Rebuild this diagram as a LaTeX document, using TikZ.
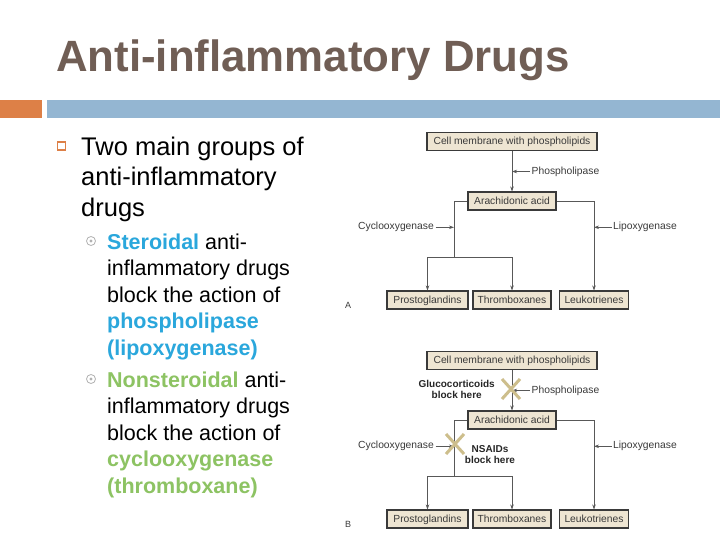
\documentclass[tikz,border=0pt]{standalone}
\usepackage{fontspec}
\setmainfont{Liberation Sans}
\usetikzlibrary{arrows.meta,positioning}
\definecolor{titlebrown}{HTML}{705E55}
\definecolor{barorange}{HTML}{DD8047}
\definecolor{barblue}{HTML}{94B6D2}
\definecolor{stero}{HTML}{2AA7DC}
\definecolor{nonstero}{HTML}{8DC363}
\definecolor{boxfill}{HTML}{EEE5D2}
\definecolor{crosstan}{HTML}{CDBE8C}
\definecolor{inkgray}{HTML}{3A3A3A}
\begin{document}
\begin{tikzpicture}[x=1pt, y=-1pt,
    stepbox/.style={draw=inkgray, line width=1.1pt, fill=boxfill, inner sep=0pt,
                    minimum height=18pt, text height=8pt, text depth=1.8pt,
                    font=\fontsize{10.3}{12}\selectfont, text=inkgray},
    flow/.style={draw=inkgray!85, line width=0.6pt},
    flowarr/.style={flow, -{Stealth[length=5pt,width=3.5pt]}},
    enzyme/.style={font=\fontsize{10.3}{12}\selectfont, text=inkgray, inner sep=1.5pt},
    blocktext/.style={font=\bfseries\fontsize{10}{11}\selectfont, align=center,
                      text=black!85, inner sep=0pt},
    crossline/.style={draw=crosstan, line width=3pt},
    bodytext/.style={anchor=base west, align=left, inner sep=0pt}]

\useasboundingbox[fill=white] (0,0) rectangle (720,540);

% title and bars
\node[anchor=base west, inner sep=0pt, text=titlebrown,
      font=\bfseries\fontsize{43.8}{44}\selectfont] (title) at (56,72) {Anti-inflammatory Drugs};
\fill[barorange] (0,100) rectangle (42,118);
\fill[barblue] (47,100) rectangle (720,118);

% bullets (anchored on the baseline of the last line)
\node[draw=barorange, line width=1.3pt, minimum size=8pt, inner sep=0pt] (sq) at (61.5,146) {};
\node[bodytext, font=\fontsize{25.5}{31}\selectfont] (main) at (81,217)
    {Two main groups of\\anti-inflammatory\\drugs};

\node[circle, draw=gray!60, line width=0.8pt, minimum size=9pt, inner sep=0pt] (dot1) at (91,241) {};
\fill[gray!60] (dot1) circle (1.6);
\node[bodytext, font=\fontsize{21.5}{26.5}\selectfont] (stero) at (107,355)
    {{\bfseries\color{stero}Steroidal} anti-\\inflammatory drugs\\block the action of\\
     {\bfseries\color{stero}phospholipase}\\{\bfseries\color{stero}(lipoxygenase)}};

\node[circle, draw=gray!60, line width=0.8pt, minimum size=9pt, inner sep=0pt] (dot2) at (91,379) {};
\fill[gray!60] (dot2) circle (1.6);
\node[bodytext, font=\fontsize{21.5}{26.5}\selectfont] (nonstero) at (107,493)
    {{\bfseries\color{nonstero}Nonsteroidal} anti-\\inflammatory drugs\\block the action of\\
     {\bfseries\color{nonstero}cyclooxygenase}\\{\bfseries\color{nonstero}(thromboxane)}};

% the two pathway panels
\foreach \p/\dy in {A/0,B/219}{
  \begin{scope}[shift={(0,\dy)}]
    \node[stepbox, minimum width=170pt] (mem\p) at (512,141.5) {Cell membrane with phospholipids};
    \node[stepbox, minimum width=88pt] (ara\p) at (512,201) {Arachidonic acid};
    \node[stepbox, minimum width=81pt] (pro\p) at (427.5,300) {Prostoglandins};
    \node[stepbox, minimum width=78pt] (thr\p) at (512,300) {Thromboxanes};
    \node[stepbox, minimum width=69pt] (leu\p) at (594,300) {Leukotrienes};
    \coordinate (cl\p) at (454,201);
    \coordinate (cb\p) at (454,257);

    \draw[flowarr] (mem\p) -- (ara\p);
    \draw[flow] (ara\p.west) -- (cl\p) -- (cb\p);
    \draw[flowarr] (cb\p) -| (pro\p.north);
    \draw[flowarr] (cb\p) -| (thr\p.north);
    \draw[flowarr] (ara\p.east) -| (leu\p.north);

    \node[enzyme, anchor=west] (pla\p) at (530,171.5) {Phospholipase};
    \node[enzyme, anchor=east] (cox\p) at (435.5,227.3) {Cyclooxygenase};
    \node[enzyme, anchor=west] (lox\p) at (611.5,227.3) {Lipoxygenase};
    \coordinate (plh\p) at (mem\p.south |- pla\p.west);
    \coordinate (coh\p) at (cl\p |- cox\p.east);
    \coordinate (loh\p) at (leu\p.north |- lox\p.west);
    \draw[flowarr] (pla\p.west) -- (plh\p);
    \draw[flowarr] (cox\p.east) -- (coh\p);
    \draw[flowarr] (lox\p.west) -- (loh\p);

    \node[font=\fontsize{9}{9}\selectfont, text=inkgray] (tag\p) at (348,305) {\p};
  \end{scope}
}

% where the drugs block
\coordinate (xglu) at (511,389);
\coordinate (xnsa) at (455,444);
\foreach \c in {xglu,xnsa}{
  \draw[crossline] (\c) +(-9,-10) -- +(9,10);
  \draw[crossline] (\c) +(-9,10) -- +(9,-10);
}
\node[blocktext] (glu) at (456.7,389) {Glucocorticoids\\block here};
\node[blocktext] (nsa) at (490,455) {NSAIDs\\block here};

\end{tikzpicture}
\end{document}
